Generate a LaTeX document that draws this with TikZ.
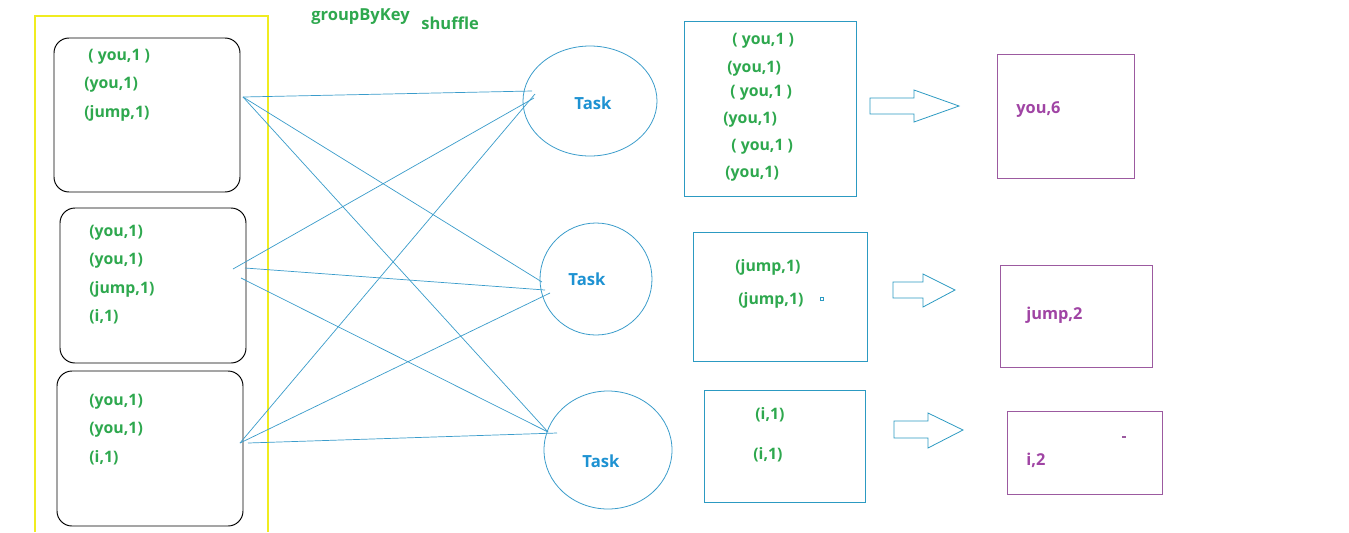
\documentclass[tikz,border=0pt]{standalone}
\usepackage{fontspec}
\setmainfont{Open Sans}
\definecolor{txtgreen}{HTML}{2EA84E}
\definecolor{linkblue}{HTML}{3A9CCB}
\definecolor{taskblue}{HTML}{1E92D2}
\definecolor{boxblue}{HTML}{2C9AC2}
\definecolor{outpurple}{HTML}{9C5AA0}
\definecolor{txtpurple}{HTML}{A044A4}
\definecolor{yel}{HTML}{F0EC20}
\begin{document}
\begin{tikzpicture}[x=0.02cm,y=-0.02cm,
  kv/.style={anchor=west,text=txtgreen,font=\bfseries\fontsize{9}{11}\selectfont,inner sep=0pt},
  res/.style={anchor=west,text=txtpurple,font=\bfseries\fontsize{9.3}{11}\selectfont,inner sep=0pt},
  lbl/.style={anchor=west,text=txtgreen,font=\bfseries\fontsize{9.4}{11}\selectfont,inner sep=0pt},
  mapbox/.style={draw=black,line width=0.55pt,rounded corners=0.3cm},
  tasknode/.style={draw=linkblue,line width=0.45pt},
  tasktext/.style={text=taskblue,font=\bfseries\fontsize{9.5}{11}\selectfont,inner sep=0pt},
  grpbox/.style={draw=boxblue,line width=0.5pt},
  outbox/.style={draw=outpurple,line width=0.5pt},
  link/.style={draw=linkblue,line width=0.4pt},
  blockarrow/.style={draw=boxblue,line width=0.45pt,fill=white}]
\useasboundingbox[fill=white] (0,0) rectangle (1349,532);

% yellow frame
\draw[yel,line width=0.6pt] (35,532) -- (35,16) -- (268,16) -- (268,532);

% map boxes
\draw[mapbox] (54,38) rectangle (240,192);
\draw[mapbox] (60,208) rectangle (246,363);
\draw[mapbox] (57,371) rectangle (243,526);

\node[kv] (a1) at (88,57) {( you,1 )};
\node[kv] (a2) at (84,85) {(you,1)};
\node[kv] (a3) at (84,113) {(jump,1)};

\node[kv] (b1) at (89,233) {(you,1)};
\node[kv] (b2) at (89,261) {(you,1)};
\node[kv] (b3) at (89,289) {(jump,1)};
\node[kv] (b4) at (89,317) {(i,1)};

\node[kv] (c1) at (89,402) {(you,1)};
\node[kv] (c2) at (89,430) {(you,1)};
\node[kv] (c3) at (89,458) {(i,1)};

\node[lbl] (gbk) at (311,17) {groupByKey};
\node[lbl] (shf) at (421,23) {shuffle};

% tasks
\draw[tasknode] (590,101) ellipse [x radius=67,y radius=55];
\draw[tasknode] (596,279) ellipse [x radius=56,y radius=56];
\draw[tasknode] (608,450) ellipse [x radius=64,y radius=59];
\node[tasktext] (t1) at (593,103) {Task};
\node[tasktext] (t2) at (587,279) {Task};
\node[tasktext] (t3) at (601,461) {Task};

% connector endpoints
\coordinate (s1) at (243,97);
\coordinate (s2a) at (233,269);
\coordinate (s2b) at (245,268);
\coordinate (s2c) at (241,278);
\coordinate (s3a) at (240,443);
\coordinate (s3b) at (248,443);
\coordinate (e1a) at (532,91);
\coordinate (e1b) at (535,94);
\coordinate (e1c) at (534,98);
\coordinate (e2a) at (542,282);
\coordinate (e2b) at (545,290);
\coordinate (e2c) at (550,293);
\coordinate (e3a) at (548,432);
\coordinate (e3b) at (557,433);

\draw[link] (s1) -- (e1a);
\draw[link] (s1) -- (e2a);
\draw[link] (s1) -- (e3a);
\draw[link] (s2a) -- (e1c);
\draw[link] (s2b) -- (e2b);
\draw[link] (s2c) -- (e3a);
\draw[link] (s3a) -- (e1b);
\draw[link] (s3a) -- (e2c);
\draw[link] (s3b) -- (e3b);

% grouped boxes
\draw[grpbox] (684,21) rectangle (856,196);
\draw[grpbox] (693,232) rectangle (867,361);
\draw[grpbox] (704,390) rectangle (865,502);

\node[kv] (g1) at (732,41) {( you,1 )};
\node[kv] (g2) at (727,69) {(you,1)};
\node[kv] (g3) at (730,93) {( you,1 )};
\node[kv] (g4) at (723,120) {(you,1)};
\node[kv] (g5) at (731,147) {( you,1 )};
\node[kv] (g6) at (725,174) {(you,1)};

\node[kv] (h1) at (735,267) {(jump,1)};
\node[kv] (h2) at (738,300) {(jump,1)};
\draw[boxblue,line width=0.4pt] (820,297) rectangle (823,300);

\node[kv] (i1) at (755,415) {(i,1)};
\node[kv] (i2) at (753,455) {(i,1)};

% block arrows
\draw[blockarrow] (870,98) -- (914,98) -- (914,90) -- (959,106) -- (914,122) -- (914,114) -- (870,114) -- cycle;
\draw[blockarrow] (893,282) -- (923,282) -- (923,274) -- (955,290) -- (923,307) -- (923,298) -- (893,298) -- cycle;
\draw[blockarrow] (894,421) -- (928,421) -- (928,413) -- (963,430) -- (928,448) -- (928,438) -- (894,438) -- cycle;

% output boxes
\draw[outbox] (997,54) rectangle (1134,178);
\draw[outbox] (1000,265) rectangle (1152,367);
\draw[outbox] (1007,411) rectangle (1162,494);

\node[res] (r1) at (1016,110) {you,6};
\node[res] (r2) at (1026,315) {jump,2};
\node[res] (r3) at (1026,460) {i,2};
\draw[outpurple,line width=0.8pt] (1122,437) -- (1126,437);
\end{tikzpicture}
\end{document}
